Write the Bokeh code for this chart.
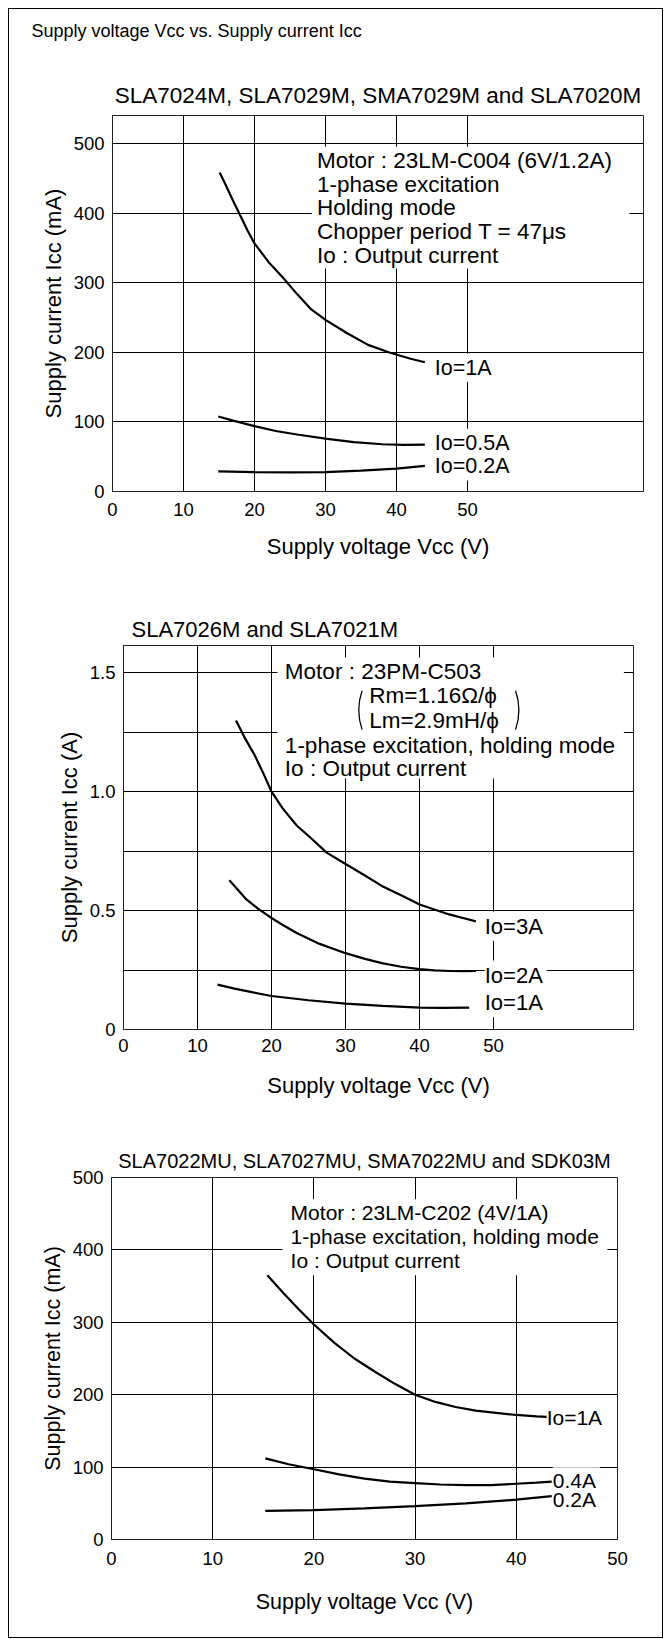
from bokeh.plotting import figure
from bokeh.models import Range1d, FixedTicker
from bokeh.layouts import column, row
from bokeh.core.properties import value
from bokeh.embed import file_html
from bokeh.resources import INLINE

FONT = "Liberation Sans"

# ------------------------------------------------------------------ data
heading = "Supply voltage Vcc vs. Supply current Icc"
x_label = "Supply voltage Vcc (V)"
x_ticks = [0, 10, 20, 30, 40, 50]

# chart 1
c1_title = "SLA7024M, SLA7029M, SMA7029M and SLA7020M"
c1_y_label = "Supply current Icc (mA)"
c1_y_ticks = [0, 100, 200, 300, 400, 500]
c1_a_v = [15.1, 16, 17, 18, 19, 20, 22, 24, 26, 28, 30, 33, 36, 39, 42, 44]
c1_a_i = [459, 440, 418, 397, 376, 357, 330, 308, 284, 262, 247, 228, 211, 200, 191, 186]
c1_b_v = [14.9, 17, 20, 23, 26, 30, 34, 38, 41, 44]
c1_b_i = [108, 102, 94, 87, 82, 76, 71, 68, 67, 67.5]
c1_c_v = [14.9, 20, 25, 30, 35, 40, 44]
c1_c_i = [29, 28, 27.5, 28, 30, 33, 37]
c1_curve_labels = ["Io=1A", "Io=0.5A", "Io=0.2A"]
c1_notes = ["Motor : 23LM-C004 (6V/1.2A)", "1-phase excitation", "Holding mode",
            "Chopper period T = 47\u03bcs", "Io : Output current"]

# chart 2
c2_title = "SLA7026M and SLA7021M"
c2_y_label = "Supply current Icc (A)"
c2_y_ticks = [0, 0.5, 1.0, 1.5]
c2_y_tick_labels = ["0", "0.5", "1.0", "1.5"]
c2_y_grid = [0.25, 0.5, 0.75, 1.0, 1.25, 1.5]
c2_a_v = [15.2, 16.5, 17.7, 19, 20, 21.5, 23.4, 25.5, 27.4, 30, 32.5, 34.9, 37.5, 40, 42, 44, 46, 47.6]
c2_a_i = [1.30, 1.22, 1.155, 1.07, 1.0, 0.93, 0.858, 0.80, 0.745, 0.696, 0.65, 0.604, 0.565, 0.526, 0.505, 0.484, 0.468, 0.455]
c2_b_v = [14.3, 15.5, 16.6, 18.3, 20, 21.7, 23.4, 26.5, 30, 32.5, 34.9, 37.5, 40, 42, 44, 46, 47.6]
c2_b_i = [0.628, 0.586, 0.547, 0.505, 0.469, 0.436, 0.406, 0.36, 0.321, 0.298, 0.279, 0.264, 0.254, 0.249, 0.246, 0.245, 0.246]
c2_c_v = [12.7, 15, 17.5, 20, 25, 30, 35, 40, 43, 46.7]
c2_c_i = [0.189, 0.172, 0.156, 0.141, 0.123, 0.109, 0.099, 0.092, 0.091, 0.092]
c2_curve_labels = ["Io=3A", "Io=2A", "Io=1A"]
c2_notes = ["Motor : 23PM-C503", "1-phase excitation, holding mode", "Io : Output current"]
c2_motor_params = ["Rm=1.16\u03a9/\u03d5", "Lm=2.9mH/\u03d5"]

# chart 3
c3_title = "SLA7022MU, SLA7027MU, SMA7022MU and SDK03M"
c3_y_label = "Supply current Icc (mA)"
c3_y_ticks = [0, 100, 200, 300, 400, 500]
c3_a_v = [15.4, 17, 18.5, 20, 22, 24, 26, 28, 30, 32, 34, 36, 38, 40, 42, 43.5]
c3_a_i = [365, 340, 318, 297, 272, 250, 232, 215, 200, 190, 183, 178, 175, 172, 170, 169]
c3_b_v = [15.2, 17.5, 20, 22.5, 25, 27.5, 30, 32.5, 35, 37.5, 40, 42, 43.5]
c3_b_i = [112, 104, 97, 90, 84, 80, 78, 76, 75, 75, 77, 78.5, 80]
c3_c_v = [15.2, 20, 25, 30, 35, 40, 43.5]
c3_c_i = [39.5, 40.5, 43, 46, 50, 55, 60]
c3_curve_labels = ["Io=1A", "0.4A", "0.2A"]
c3_notes = ["Motor : 23LM-C202 (4V/1A)", "1-phase excitation, holding mode", "Io : Output current"]

# ------------------------------------------------------------------ layout (positions / styles)
W = 653
HEAD_H = 60


def base_fig(height, xr, yr, left, right, top, bottom, title, title_size,
             title_align, title_offset, title_standoff, label_size,
             tick_standoff, label_standoff):
    p = figure(width=W, height=height, x_range=Range1d(*xr), y_range=Range1d(*yr),
               output_backend="svg", toolbar_location=None, tools="",
               min_border_left=left, min_border_right=right,
               min_border_top=top, min_border_bottom=bottom)
    p.title.text = title
    p.title.text_font = FONT
    p.title.text_font_size = title_size
    p.title.text_font_style = "normal"
    p.title.text_color = "black"
    p.title.align = title_align
    p.title.offset = title_offset
    p.title.standoff = title_standoff
    p.outline_line_color = "#222222"
    p.outline_line_width = 1
    p.background_fill_color = "white"
    p.border_fill_color = "white"
    for ax in (p.xaxis[0], p.yaxis[0]):
        ax.axis_line_color = "#222222"
        ax.major_tick_in = 0
        ax.major_tick_out = 0
        ax.minor_tick_in = 0
        ax.minor_tick_out = 0
        ax.major_label_text_font = FONT
        ax.major_label_text_font_size = "18.5px"
        ax.major_label_text_color = "black"
        ax.axis_label_text_font = FONT
        ax.axis_label_text_font_size = label_size
        ax.axis_label_text_font_style = "normal"
        ax.axis_label_text_color = "black"
    p.xaxis.axis_label = x_label
    p.xaxis.ticker = FixedTicker(ticks=x_ticks)
    p.xaxis.major_label_standoff = tick_standoff
    p.xaxis.axis_label_standoff = label_standoff
    p.yaxis.major_label_standoff = 8
    p.yaxis.axis_label_standoff = 5
    p.xgrid.ticker = FixedTicker(ticks=[t for t in x_ticks if t > 0])
    p.xgrid.grid_line_color = "black"
    p.ygrid.grid_line_color = "black"
    p.xgrid.grid_line_width = 1
    p.ygrid.grid_line_width = 1
    return p


def curve(p, v, i):
    p.line(v, i, line_color="black", line_width=2.2)


def notes(p, x, ys, texts, size):
    p.text(x=[x] * len(texts), y=ys, text=texts, text_font=value(FONT),
           text_font_size=size, text_color="black",
           text_align="left", text_baseline="middle")


def curve_labels(p, xs, ys, texts, size):
    # white backing first, then the labels on top
    p.text(x=xs, y=ys, text=texts, text_font=value(FONT), text_font_size=size,
           text_alpha=0, text_align="left", text_baseline="middle",
           background_fill_color="white", padding=2)
    p.text(x=xs, y=ys, text=texts, text_font=value(FONT), text_font_size=size,
           text_color="black", text_align="left", text_baseline="middle")


def mask(p, l, r, b, t):
    p.quad(left=[l], right=[r], bottom=[b], top=[t], fill_color="white", line_color=None)


# ---- page heading
p0 = figure(width=W, height=HEAD_H, x_range=Range1d(0, W), y_range=Range1d(0, HEAD_H),
            output_backend="svg", toolbar_location=None, tools="",
            x_axis_location=None, y_axis_location=None, min_border=0)
p0.outline_line_color = None
p0.grid.grid_line_color = None
p0.text(x=[22], y=[HEAD_H - 21.5], text=[heading], text_font=value(FONT),
        text_font_size="18px", text_color="black", text_align="left",
        text_baseline="middle")

# ---- chart 1
p1 = base_fig(515, (0, 74.8), (0, 541), 103, 19, 46, 93, c1_title, "22.5px", "center", 0, 15,
              "22px", 11, 15)
p1.yaxis.axis_label = c1_y_label
p1.yaxis.ticker = FixedTicker(ticks=c1_y_ticks)
p1.ygrid.ticker = FixedTicker(ticks=c1_y_ticks[1:])
mask(p1, 28.1, 72.8, 321, 496)
curve(p1, c1_a_v, c1_a_i)
curve(p1, c1_b_v, c1_b_i)
curve(p1, c1_c_v, c1_c_i)
curve_labels(p1, [45.4, 45.4, 45.4], [178, 70, 36], c1_curve_labels, "21.5px")
notes(p1, 28.8, [476, 442, 408, 374, 340], c1_notes, "22.5px")

# ---- chart 2
p2 = base_fig(530, (0, 68.9), (0, 1.615), 114, 29, 61, 85, c2_title, "22px", "left", 8, 8,
              "22px", 9, 18)
p2.yaxis.axis_label = c2_y_label
p2.yaxis.ticker = FixedTicker(ticks=c2_y_ticks)
p2.yaxis.major_label_overrides = {t: s for t, s in zip(c2_y_ticks, c2_y_tick_labels)}
p2.ygrid.ticker = FixedTicker(ticks=c2_y_grid)
mask(p2, 20.8, 67.6, 1.056, 1.565)
curve(p2, c2_a_v, c2_a_i)
curve(p2, c2_b_v, c2_b_i)
curve(p2, c2_c_v, c2_c_i)
curve_labels(p2, [48.8, 48.8, 48.8], [0.434, 0.229, 0.112], c2_curve_labels, "22px")
notes(p2, 21.8, [1.506, 1.195, 1.096], c2_notes, "22.5px")
notes(p2, 33.2, [1.403, 1.299], c2_motor_params, "22.5px")
p2.arc(x=[39.9], y=[1.343], radius=60, radius_units="screen",
       start_angle=3.1416 - 0.33, end_angle=3.1416 + 0.33, line_color="black", line_width=1.3)
p2.arc(x=[45.3], y=[1.343], radius=60, radius_units="screen",
       start_angle=-0.33, end_angle=0.33, line_color="black", line_width=1.3)

# ---- chart 3
p3 = base_fig(523, (0, 50), (0, 500), 102, 45, 63, 98, c3_title, "20px", "center", 0, 11,
              "21.5px", 12, 22)
p3.yaxis.axis_label = c3_y_label
p3.yaxis.ticker = FixedTicker(ticks=c3_y_ticks)
p3.ygrid.ticker = FixedTicker(ticks=c3_y_ticks[1:])
mask(p3, 16.9, 49.0, 365, 470)
curve(p3, c3_a_v, c3_a_i)
curve(p3, c3_b_v, c3_b_i)
curve(p3, c3_c_v, c3_c_i)
curve_labels(p3, [43.0, 43.6, 43.6], [169, 81, 55], c3_curve_labels, "21px")
notes(p3, 17.7, [452, 419, 386], c3_notes, "21px")

# each figure in its own row so that their frames are not aligned to each other
page = column(row(p0), row(p1), row(p2), row(p3), spacing=0,
              styles={"border": "1px solid black", "margin-left": "8px", "margin-top": "8px"})
open("out.html", "w").write(file_html(page, INLINE))
